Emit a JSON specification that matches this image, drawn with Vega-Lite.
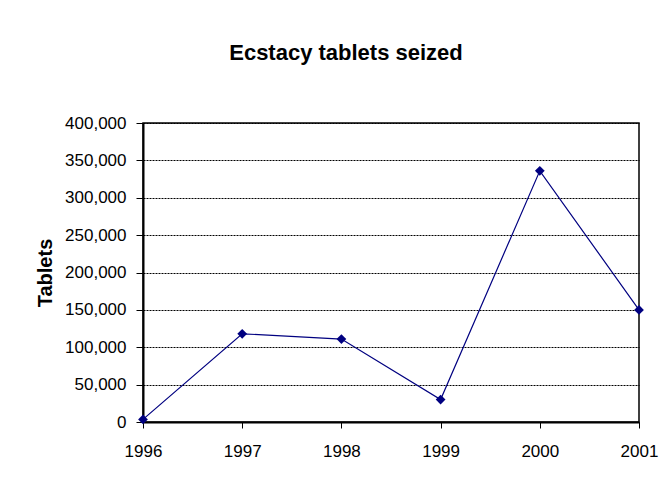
{
  "$schema": "https://vega.github.io/schema/vega-lite/v6.json",
  "width": 496,
  "height": 299,
  "autosize": {"type": "none"},
  "padding": {"left": 143, "top": 123, "right": 28, "bottom": 68},
  "background": "white",
  "title": {
    "text": "Ecstacy tablets seized",
    "font": "Liberation Sans",
    "fontSize": 22,
    "fontWeight": "bold",
    "color": "black",
    "anchor": "middle",
    "dx": -45,
    "offset": 49
  },
  "data": {
    "values": [
      {"year": "1996", "tablets": 3500},
      {"year": "1997", "tablets": 118000},
      {"year": "1998", "tablets": 111000},
      {"year": "1999", "tablets": 30000},
      {"year": "2000", "tablets": 336000},
      {"year": "2001", "tablets": 150000}
    ]
  },
  "mark": {
    "type": "line",
    "color": "#000080",
    "strokeWidth": 1.2,
    "point": {"shape": "diamond", "size": 95, "filled": true, "color": "#000080", "opacity": 1}
  },
  "encoding": {
    "x": {
      "field": "year",
      "type": "ordinal",
      "scale": {"type": "point", "padding": 0},
      "axis": {
        "title": null,
        "labelAngle": 0,
        "labelFont": "Liberation Sans",
        "labelFontSize": 17,
        "labelColor": "black",
        "labelPadding": 15,
        "tickColor": "black",
        "tickSize": 6,
        "tickWidth": 1,
        "domainColor": "black",
        "domainWidth": 2,
        "grid": false
      }
    },
    "y": {
      "field": "tablets",
      "type": "quantitative",
      "scale": {"domain": [0, 400000], "nice": false},
      "axis": {
        "title": "Tablets",
        "titleFont": "Liberation Sans",
        "titleFontSize": 20,
        "titleFontWeight": "bold",
        "titleColor": "black",
        "titlePadding": 9,
        "values": [0, 50000, 100000, 150000, 200000, 250000, 300000, 350000, 400000],
        "format": ",d",
        "labelFont": "Liberation Sans",
        "labelFontSize": 17,
        "labelColor": "black",
        "labelPadding": 10,
        "tickColor": "black",
        "tickSize": 7,
        "tickWidth": 1,
        "domainColor": "black",
        "domainWidth": 2,
        "grid": true,
        "gridColor": "black",
        "gridWidth": 1,
        "gridDash": [2, 1],
        "gridOpacity": 1
      }
    }
  },
  "config": {
    "view": {"stroke": "black", "strokeWidth": 1.5}
  }
}
